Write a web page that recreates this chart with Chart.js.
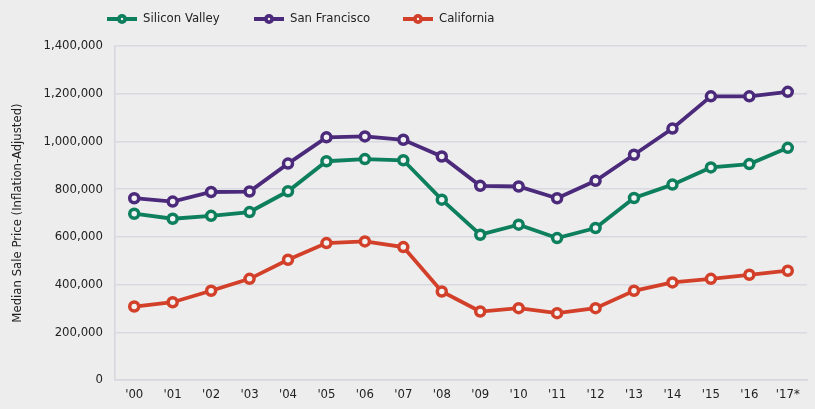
<!DOCTYPE html>
<html>
<head>
<meta charset="utf-8">
<script src="https://cdn.jsdelivr.net/npm/chart.js@4"></script>
<style>
  html, body { margin: 0; padding: 0; background: #ededed; }
  #wrap { width: 815px; height: 409px; }
</style>
</head>
<body>
<div id="wrap"><canvas id="priceChart"></canvas></div>
<script>
// Data
const years = ["'00", "'01", "'02", "'03", "'04", "'05", "'06", "'07", "'08", "'09",
  "'10", "'11", "'12", "'13", "'14", "'15", "'16", "'17*"];
const siliconValley = [697000, 676000, 688000, 704000, 791000, 917000, 926000, 921000, 756000,
  609000, 651000, 595000, 637000, 763000, 819000, 891000, 905000, 973000];
const sanFrancisco = [762000, 748000, 788000, 790000, 907000, 1017000, 1021000, 1007000, 937000,
  814000, 811000, 762000, 835000, 944000, 1054000, 1189000, 1189000, 1208000];
const california = [308000, 326000, 374000, 424000, 504000, 574000, 581000, 557000, 371000,
  287000, 301000, 280000, 301000, 374000, 409000, 424000, 441000, 458000];
const yTicks = [0, 200000, 400000, 600000, 800000, 1000000, 1200000, 1400000];

const FONT = "'Liberation Sans Narrow', 'DejaVu Sans Condensed', 'Noto Sans', sans-serif";
const GREEN = '#0d7f5d', PURPLE = '#4b2a7b', RED = '#d3402a';

function series(label, data, color) {
  return {
    label, data,
    borderColor: color,
    backgroundColor: '#ededed',
    borderWidth: 3.8,
    pointRadius: 4.5,
    pointBorderWidth: 3.5,
    pointBackgroundColor: '#f2f2f2',
    pointBorderColor: color,
    tension: 0
  };
}

// Legend: line with a circle, then label
const legendDraw = {
  id: 'legendDraw',
  afterDraw(chart) {
    const ctx = chart.ctx;
    const xs = [107, 254, 403];
    ctx.save();
    chart.data.datasets.forEach((ds, i) => {
      const x = xs[i], y = 19;
      ctx.strokeStyle = ds.borderColor;
      ctx.lineWidth = 4;
      ctx.beginPath(); ctx.moveTo(x, y); ctx.lineTo(x + 30, y); ctx.stroke();
      ctx.beginPath(); ctx.arc(x + 15, y, 5, 0, Math.PI * 2);
      ctx.fillStyle = ds.borderColor; ctx.fill();
      ctx.beginPath(); ctx.arc(x + 15, y, 1.2, 0, Math.PI * 2);
      ctx.fillStyle = '#f2f2f2'; ctx.fill();
      ctx.fillStyle = '#222';
      ctx.font = '13px ' + FONT;
      ctx.textBaseline = 'middle';
      ctx.fillText(ds.label, x + 36, y);
    });
    ctx.restore();
  }
};

new Chart(document.getElementById('priceChart'), {
  type: 'line',
  data: {
    labels: years,
    datasets: [
      series('Silicon Valley', siliconValley, GREEN),
      series('San Francisco', sanFrancisco, PURPLE),
      series('California', california, RED)
    ]
  },
  options: {
    responsive: true,
    maintainAspectRatio: false,
    animation: false,
    layout: { padding: { top: 46, right: 0, left: 0, bottom: 0 } },
    plugins: { legend: { display: false }, tooltip: { enabled: false } },
    scales: {
      x: {
        offset: true,
        grid: { display: false, drawTicks: false },
        border: { color: '#d6d6de', width: 1.5 },
        ticks: { color: '#222', font: { family: FONT, size: 13 }, padding: 7, maxRotation: 0, autoSkip: false },
        afterFit(s) { s.height = 29; }
      },
      y: {
        min: 0, max: 1400000,
        afterBuildTicks(s) { s.ticks = yTicks.map(v => ({ value: v })); },
        grid: { color: '#d9d9e1', lineWidth: 1.5, drawTicks: false },
        border: { color: '#d6d6de', width: 1.5 },
        ticks: {
          color: '#222', padding: 12,
          font: { family: FONT, size: 13 },
          callback: v => Number(v).toLocaleString('en-US')
        },
        title: {
          display: true, text: 'Median Sale Price (Inflation-Adjusted)',
          color: '#222', font: { family: FONT, size: 13 }, padding: { top: 10, bottom: 0 }
        },
        afterFit(s) { s.width = 115; }
      }
    }
  },
  plugins: [legendDraw]
});
</script>
</body>
</html>
